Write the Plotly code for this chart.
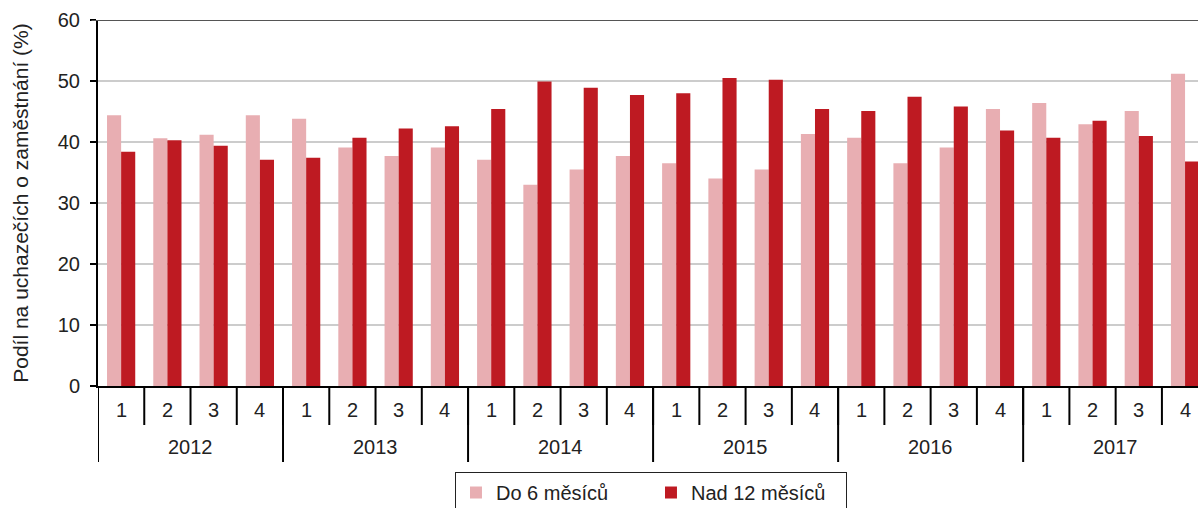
import plotly.graph_objects as go

years = ["2012", "2013", "2014", "2015", "2016", "2017"]
quarters = ["1", "2", "3", "4"]

do6 = [44.4, 40.6, 41.2, 44.4,
       43.8, 39.1, 37.7, 39.1,
       37.1, 33.0, 35.5, 37.7,
       36.5, 34.0, 35.5, 41.3,
       40.7, 36.5, 39.1, 45.4,
       46.4, 42.9, 45.1, 51.2]
nad12 = [38.4, 40.3, 39.4, 37.1,
         37.4, 40.7, 42.2, 42.6,
         45.4, 49.9, 48.9, 47.7,
         48.0, 50.5, 50.2, 45.4,
         45.1, 47.4, 45.8, 41.9,
         40.7, 43.5, 41.0, 36.8]

n_q = len(quarters)
idx = list(range(len(years) * n_q))
q_labels = [quarters[i % n_q] for i in idx]

font = "Liberation Sans, Arial, sans-serif"
txt = "#222222"
FS = 20

fig = go.Figure()
fig.add_trace(go.Bar(x=idx, y=do6, name="Do 6 měsíců",
                     marker=dict(color="#E8AEB2", line=dict(width=0))))
fig.add_trace(go.Bar(x=idx, y=nad12, name="Nad 12 měsíců",
                     marker=dict(color="#BE1A22", line=dict(width=0))))

fig.update_layout(
    width=1198, height=508,
    margin=dict(l=98, r=0, t=20, b=122, autoexpand=False),
    paper_bgcolor="white", plot_bgcolor="white",
    barmode="group", bargap=0.39, bargroupgap=0,
    font=dict(family=font, size=FS, color=txt),
    showlegend=True,
    legend=dict(orientation="h", x=0.5027, xanchor="center", y=-0.235, yanchor="top",
                bordercolor="#222", borderwidth=1, font=dict(size=FS),
                entrywidth=150, itemwidth=30),
    xaxis=dict(range=[-0.5, 23.28], showline=True, linecolor="black", linewidth=2,
               showticklabels=False, ticks="", showgrid=False, zeroline=False,
               automargin=False),
    yaxis=dict(range=[0, 60], dtick=10, showline=True, linecolor="black", linewidth=2,
               ticks="outside", ticklen=6, tickcolor="black", tickwidth=2,
               showgrid=True, gridcolor="#CCCCCC", gridwidth=2,
               zeroline=False, tickfont=dict(size=FS), automargin=False,
               ticklabelstandoff=6,
               title=dict(text="Podíl na uchazečích o zaměstnání (%)",
                          font=dict(size=21), standoff=23)),
)

# top border line at 60
fig.add_shape(type="line", xref="paper", yref="y", x0=-0.006, x1=1, y0=60, y1=60,
              line=dict(color="#555555", width=2))

# quarter separators and labels
for i in idx:
    fig.add_shape(type="line", xref="x", yref="paper", ysizemode="pixel", yanchor=0,
                  x0=i - 0.5, x1=i - 0.5, y0=0, y1=-39,
                  line=dict(color="black", width=2))
    fig.add_annotation(x=i, xref="x", y=0, yref="paper", yshift=-24, yanchor="middle",
                       text=q_labels[i], showarrow=False, font=dict(size=FS, color=txt))

# year dividers and labels
for k, yr in enumerate(years):
    fig.add_shape(type="line", xref="x", yref="paper", ysizemode="pixel", yanchor=0,
                  x0=k * n_q - 0.5, x1=k * n_q - 0.5, y0=0, y1=-76,
                  line=dict(color="black", width=2))
    fig.add_annotation(x=k * n_q + (n_q - 1) / 2, xref="x", y=0, yref="paper", yshift=-61,
                       yanchor="middle", text=yr, showarrow=False,
                       font=dict(size=FS, color=txt))

fig.write_html("out.html", config={"displayModeBar": False},
               post_script="document.body.style.margin='0';document.body.style.overflow='hidden';")
